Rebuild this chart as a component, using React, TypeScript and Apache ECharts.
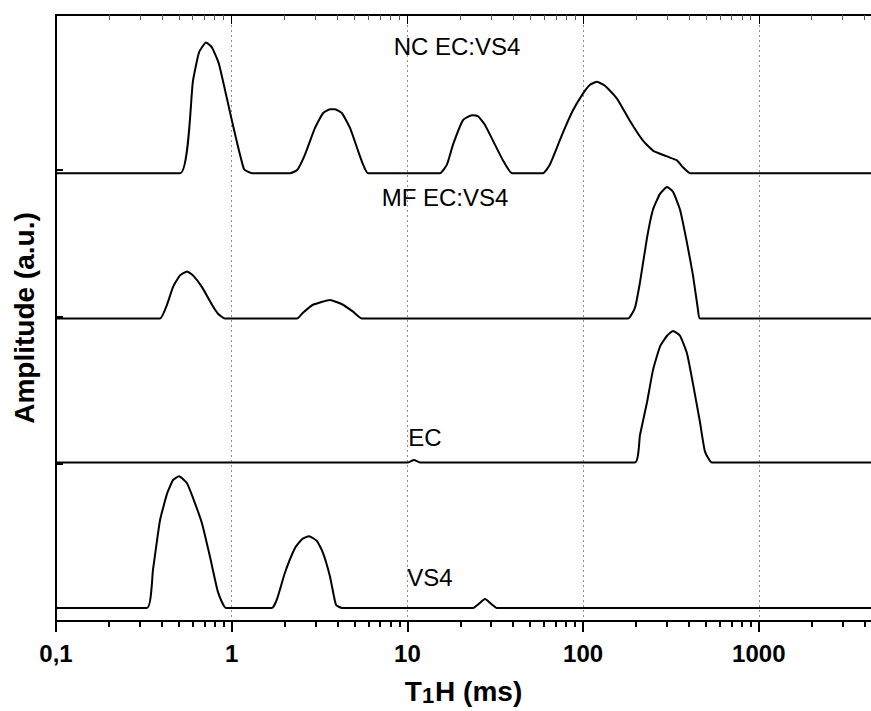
import React, { useEffect, useRef } from 'react';
import * as echarts from 'echarts';

// ---- data (T1 in ms, amplitude in a.u. relative to each trace's baseline) ----
const X_MIN = 0.1;
const X_MAX = 4352;

const NC_T1 = [0.1, 0.508, 0.602, 0.652, 0.714, 0.772, 0.847, 1.004, 1.175, 1.305, 2.147, 2.353, 2.613, 2.979, 3.308, 3.626, 3.871, 4.244, 4.714, 5.234, 5.588, 5.966, 15.33, 16.81, 18.18, 20.73, 23.32, 25.23, 27.65, 30.7, 35.01, 39.38, 59.13, 64.8, 75.85, 87.6, 99.86, 109.5, 120.0, 133.3, 155.9, 184.9, 219.2, 249.9, 300.4, 342.3, 370.3, 406.0, 4352];
const NC_AMP = [0, 0, 0.629, 0.823, 0.89, 0.856, 0.742, 0.355, 0.027, 0, 0, 0.02, 0.127, 0.308, 0.408, 0.435, 0.435, 0.408, 0.308, 0.154, 0.06, 0, 0, 0.06, 0.194, 0.361, 0.395, 0.388, 0.328, 0.221, 0.087, 0, 0, 0.06, 0.261, 0.428, 0.542, 0.602, 0.622, 0.595, 0.508, 0.355, 0.221, 0.154, 0.114, 0.087, 0.04, 0, 0];

const MF_T1 = [0.1, 0.3906, 0.4283, 0.4633, 0.5078, 0.5566, 0.6021, 0.6776, 0.7724, 0.8356, 0.9161, 2.353, 2.546, 2.902, 3.626, 4.3, 4.903, 5.515, 180.1, 197.4, 210.8, 231.0, 249.9, 274.0, 300.4, 324.9, 356.0, 390.3, 422.3, 450.8, 462.8, 4352];
const MF_AMP = [0, 0, 0.094, 0.214, 0.294, 0.321, 0.294, 0.214, 0.094, 0.033, 0, 0, 0.04, 0.094, 0.127, 0.094, 0.047, 0, 0, 0.074, 0.247, 0.548, 0.742, 0.849, 0.896, 0.863, 0.742, 0.515, 0.294, 0.06, 0, 0];

const EC_T1 = [0.1, 10.08, 10.9, 11.8, 197.4, 210.8, 231.0, 249.9, 274.0, 300.4, 324.9, 356.0, 390.3, 422.3, 462.8, 494.1, 541.5, 4352];
const EC_AMP = [0, 0, 0.017, 0, 0, 0.187, 0.408, 0.629, 0.789, 0.863, 0.896, 0.863, 0.742, 0.535, 0.274, 0.074, 0, 0];

const VS4_T1 = [0.1, 0.3296, 0.3566, 0.3906, 0.4283, 0.4633, 0.5013, 0.5566, 0.6021, 0.6776, 0.7525, 0.8356, 0.9281, 1.696, 1.811, 2.011, 2.293, 2.513, 2.754, 3.058, 3.308, 3.626, 3.922, 4.244, 23.63, 27.65, 32.36, 4352];
const VS4_AMP = [0, 0, 0.261, 0.595, 0.776, 0.87, 0.896, 0.849, 0.749, 0.575, 0.348, 0.107, 0, 0, 0.06, 0.241, 0.408, 0.468, 0.488, 0.455, 0.375, 0.214, 0.02, 0, 0, 0.06, 0, 0];

// vertical offsets of the stacked traces
const OFFSET_VS4 = 0.02;
const OFFSET_EC = 1.01;
const OFFSET_MF = 1.99;
const OFFSET_NC = 2.98;

const Y_MIN = -0.07;
const Y_MAX = 4.057;
const Y_TICKS = [1, 2, 3];

const TRACE_LABELS = ['NC EC:VS4', 'MF EC:VS4', 'EC', 'VS4'];

const MINOR_FACTORS = [2, 3, 4, 5, 6, 7, 8, 9];
const DECADES = [0.1, 1, 10, 100, 1000];

const FONT = 'Liberation Sans, Arial, Helvetica, sans-serif';

function build(t1: number[], amp: number[], off: number) {
  return t1.map((t, i) => [t, off + amp[i]]);
}

export default function App() {
  const ref = useRef<HTMLDivElement>(null);
  useEffect(() => {
    document.body.style.margin = '0';
    if (!ref.current) return;
    const chart = echarts.init(ref.current, undefined, { renderer: 'svg' });

    const minorLog: number[] = [];
    DECADES.forEach((d) => MINOR_FACTORS.forEach((f) => {
      const v = d * f;
      if (v < X_MAX) minorLog.push(Math.log10(v));
    }));
    const logMin = Math.log10(X_MIN);
    const logMax = Math.log10(X_MAX);

    const lineSeries = (name: string, data: number[][]) => ({
      name,
      type: 'line',
      xAxisIndex: 0,
      yAxisIndex: 0,
      data,
      symbol: 'none',
      smooth: 0.15,
      lineStyle: { color: '#000', width: 2 },
      z: 5,
    });

    const labelPos = [
      [457, 46],
      [445, 197],
      [425, 437],
      [430, 577],
    ];

    chart.setOption({
      animation: false,
      backgroundColor: '#fff',
      grid: { left: 56, right: 0, top: 15, bottom: 79, containLabel: false },
      xAxis: [
        {
          type: 'log',
          logBase: 10,
          min: X_MIN,
          max: X_MAX,
          position: 'bottom',
          axisLine: { show: true, onZero: false, lineStyle: { color: '#000', width: 2 } },
          axisTick: { show: true, inside: false, length: 11, lineStyle: { color: '#000', width: 2 } },
          axisLabel: {
            show: true,
            showMaxLabel: false,
            margin: 20,
            color: '#000',
            fontFamily: FONT,
            fontWeight: 'bold',
            fontSize: 24,
            formatter: (v: number) => (v < 1 ? String(Number(v.toFixed(1))).replace('.', ',') : String(Math.round(v))),
          },
          splitLine: { show: true, lineStyle: { color: '#8c8c8c', width: 1, type: [2, 3] } },
          name: '{a|T}{s|1}{a|H (ms)}',
          nameLocation: 'middle',
          nameGap: 44,
          nameTextStyle: {
            rich: {
              a: { fontFamily: FONT, fontWeight: 'bold', fontSize: 28, color: '#000', lineHeight: 30 },
              s: { fontFamily: FONT, fontWeight: 'bold', fontSize: 22, color: '#000', lineHeight: 30, verticalAlign: 'bottom', padding: [14, 1, 0, 0] },
            },
          },
        },
        {
          type: 'value',
          min: logMin,
          max: logMax,
          position: 'bottom',
          axisLine: { show: false, onZero: false },
          axisTick: { show: true, inside: false, length: 6, customValues: minorLog, lineStyle: { color: '#000', width: 2 } },
          axisLabel: { show: false },
          splitLine: { show: false },
        },
        {
          type: 'log',
          logBase: 10,
          min: X_MIN,
          max: X_MAX,
          position: 'top',
          axisLine: { show: true, onZero: false, lineStyle: { color: '#000', width: 2 } },
          axisTick: { show: true, inside: true, length: 9, lineStyle: { color: '#000', width: 1 } },
          axisLabel: { show: false },
          splitLine: { show: false },
        },
        {
          type: 'value',
          min: logMin,
          max: logMax,
          position: 'top',
          axisLine: { show: false, onZero: false },
          axisTick: { show: true, inside: true, length: 5, customValues: minorLog, lineStyle: { color: '#555', width: 1 } },
          axisLabel: { show: false },
          splitLine: { show: false },
        },
      ],
      yAxis: {
        type: 'value',
        min: Y_MIN,
        max: Y_MAX,
        axisLine: { show: true, onZero: false, lineStyle: { color: '#000', width: 2 } },
        axisTick: { show: true, inside: true, length: 7, customValues: Y_TICKS, lineStyle: { color: '#000', width: 2 } },
        axisLabel: { show: false },
        splitLine: { show: false },
        name: 'Amplitude (a.u.)',
        nameLocation: 'middle',
        nameRotate: 90,
        nameGap: 18,
        nameTextStyle: { fontFamily: FONT, fontWeight: 'bold', fontSize: 28, color: '#000' },
      },
      graphic: TRACE_LABELS.map((t, i) => ({
        type: 'text',
        x: labelPos[i][0],
        y: labelPos[i][1],
        z: 10,
        style: { text: t, fontFamily: FONT, fontSize: 24, fill: '#000', align: 'center', verticalAlign: 'middle' },
      })),
      series: [
        lineSeries('NC EC:VS4', build(NC_T1, NC_AMP, OFFSET_NC)),
        lineSeries('MF EC:VS4', build(MF_T1, MF_AMP, OFFSET_MF)),
        lineSeries('EC', build(EC_T1, EC_AMP, OFFSET_EC)),
        lineSeries('VS4', build(VS4_T1, VS4_AMP, OFFSET_VS4)),
      ],
    });
    return () => chart.dispose();
  }, []);
  return <div ref={ref} style={{ width: 871, height: 711 }} />;
}
